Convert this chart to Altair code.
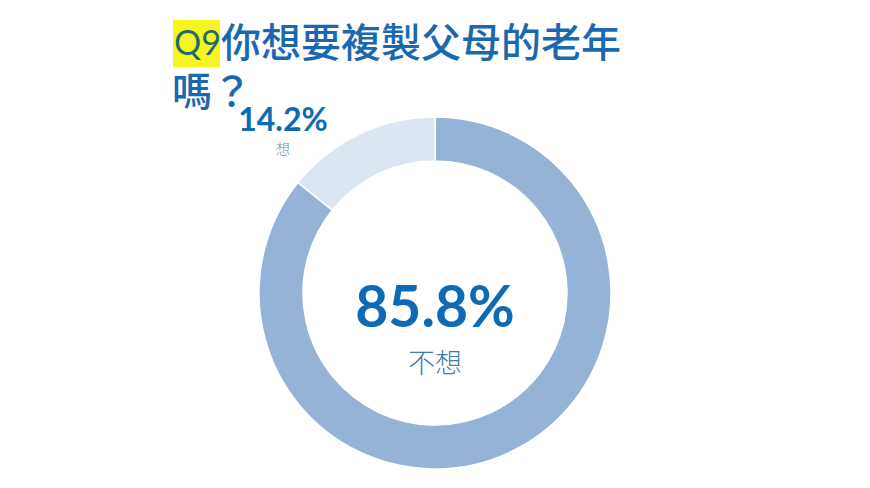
import altair as alt
import pandas as pd

# answers to Q9 and their shares (%)
answers = ["不想", "想"]
shares = [85.8, 14.2]
slice_colors = ["#95B3D7", "#DCE6F2"]

title_tag = "Q9"
title_line1 = "你想要複製父母的老年"
title_line2 = "嗎？"

df = pd.DataFrame({"answer": answers, "share": shares})
df["rank"] = range(len(df))
df["pct"] = df["share"].map(lambda v: f"{v:.1f}%")

BLUE = "#1B68B0"
CJK = "Noto Sans CJK TC"
NUM = "Lato"
CX, CY = 427, 285

base = alt.Chart(df)

donut = base.mark_arc(
    innerRadius=132, outerRadius=176, stroke="white", strokeWidth=1.5
).encode(
    theta=alt.Theta("share:Q", stack=True),
    order=alt.Order("rank:Q"),
    color=alt.Color(
        "answer:N",
        scale=alt.Scale(domain=answers, range=slice_colors),
        legend=None,
    ),
    x=alt.value(CX),
    y=alt.value(CY),
)

big = base.transform_filter(alt.datum.answer == answers[0])
small = base.transform_filter(alt.datum.answer == answers[1])

big_pct = big.mark_text(
    font=NUM, fontSize=57, fontWeight="bold", color="#0F6AB4", baseline="middle"
).encode(text="pct:N", x=alt.value(CX), y=alt.value(302))

big_name = big.mark_text(
    font=CJK, fontSize=27, fontWeight=300, color="#3F7AAE", baseline="middle"
).encode(text="answer:N", x=alt.value(CX), y=alt.value(357))

small_pct = small.mark_text(
    font=NUM, fontSize=32, fontWeight="bold", color="#0F6AB4", baseline="middle"
).encode(text="pct:N", x=alt.value(275), y=alt.value(113))

small_name = small.mark_text(
    font=CJK, fontSize=14, fontWeight=300, color="#77889A", baseline="middle"
).encode(text="answer:N", x=alt.value(275), y=alt.value(142))

highlight = alt.Chart(pd.DataFrame({"t": [title_tag]})).mark_rect(
    color="#F7F520"
).encode(x=alt.value(165), x2=alt.value(212), y=alt.value(12), y2=alt.value(59))

tag = alt.Chart(pd.DataFrame({"t": [title_tag]})).mark_text(
    font=NUM, fontSize=34, color="#1E6A6C", align="left", baseline="middle"
).encode(text="t:N", x=alt.value(166), y=alt.value(37))

line1 = alt.Chart(pd.DataFrame({"t": [title_line1]})).mark_text(
    font=CJK, fontSize=40, fontWeight=500, color=BLUE, align="left", baseline="middle"
).encode(text="t:N", x=alt.value(213), y=alt.value(37))

line2 = alt.Chart(pd.DataFrame({"t": [title_line2]})).mark_text(
    font=CJK, fontSize=40, fontWeight=500, color=BLUE, align="left", baseline="middle"
).encode(text="t:N", x=alt.value(164), y=alt.value(86))

chart = (
    alt.layer(donut, big_pct, big_name, small_pct, small_name, highlight, tag, line1, line2)
    .properties(width=854, height=470, padding=0, autosize="none", background="white")
    .configure_view(strokeWidth=0)
)

chart.save("out.html", embed_options={"renderer": "svg", "actions": False})
